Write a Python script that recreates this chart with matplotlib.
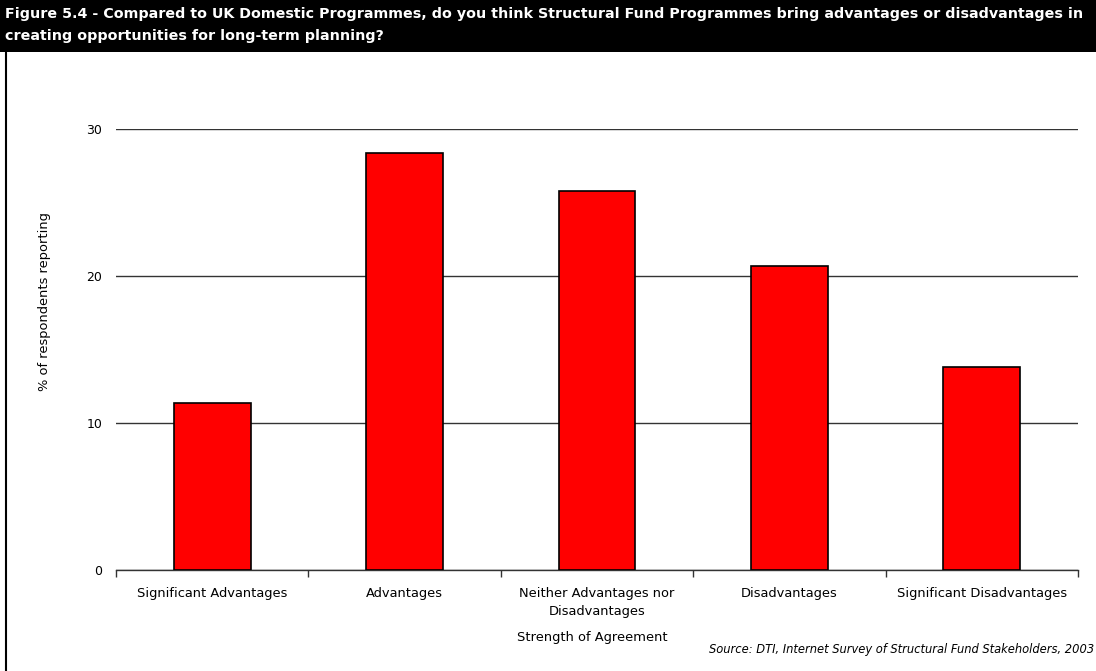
import numpy as np
import matplotlib.pyplot as plt
from matplotlib.patches import Rectangle
from matplotlib.lines import Line2D

categories = ["Significant Advantages", "Advantages", "Neither Advantages nor\nDisadvantages",
              "Disadvantages", "Significant Disadvantages"]
values = [11.36, 28.37, 25.78, 20.68, 13.81]
yticks = [0, 10, 20, 30]

title = ("Figure 5.4 - Compared to UK Domestic Programmes, do you think Structural Fund Programmes bring advantages or disadvantages in\n"
         "creating opportunities for long-term planning?")

plt.rcParams['font.family'] = ['DejaVu Sans']

fig = plt.figure(figsize=(10.96, 6.71), dpi=100)
W, H = 1096, 671

# black title band + left frame line
fig.patches.append(Rectangle((0, 1 - 52 / H), 1, 52 / H, transform=fig.transFigure,
                             facecolor='black', edgecolor='none', zorder=0))
fig.lines.append(Line2D([5.5 / W, 5.5 / W], [0, 1 - 52 / H], transform=fig.transFigure,
                        color='black', lw=1.5))
fig.text(5 / W, 1 - 7 / H, title, color='white', fontsize=10.3, fontweight='bold',
         va='top', ha='left', linespacing=1.72)

ax = fig.add_axes([116 / W, 1 - 570 / H, 962 / W, 441 / H])
x = np.arange(len(categories))
ax.bar(x, values, width=0.4, color='#FF0000', edgecolor='black', linewidth=1.2, zorder=3)

ax.set_xlim(-0.5, len(categories) - 0.5)
ax.set_ylim(0, 30)
ax.set_yticks(yticks)
ax.yaxis.grid(True, color='#333333', linewidth=1, zorder=0)
ax.tick_params(axis='y', length=0, pad=10, labelsize=9)

ax.set_xticks(x)
ax.set_xticklabels(categories, fontsize=9.4, linespacing=1.5)
ax.set_xticks(np.arange(-0.5, len(categories)), minor=True)
ax.tick_params(axis='x', which='major', length=0, pad=12)
ax.tick_params(axis='x', which='minor', length=5, width=1, color='#333333', direction='out')

for s in ['top', 'right', 'left']:
    ax.spines[s].set_visible(False)
ax.spines['bottom'].set_color('#333333')
ax.spines['bottom'].set_linewidth(1)

fig.text(45 / W, 1 - 302 / H, "% of respondents reporting", rotation=90, fontsize=9.4,
         ha='center', va='center')
fig.text(592 / W, 1 - 637 / H, "Strength of Agreement", fontsize=9.4, ha='center', va='center')
fig.text(1094 / W, 1 - 650 / H, "Source: DTI, Internet Survey of Structural Fund Stakeholders, 2003",
         fontsize=8.3, style='italic', ha='right', va='center')

fig.savefig("out.png", dpi=100, facecolor='white')
